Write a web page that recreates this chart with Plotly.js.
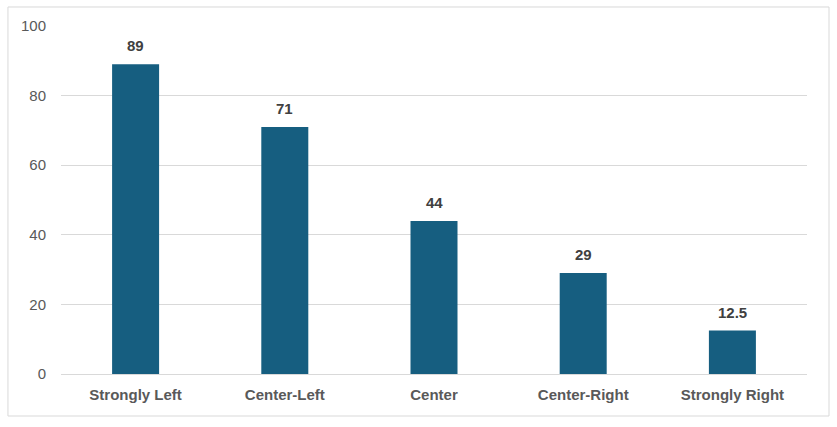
<!DOCTYPE html>
<html><head><meta charset="utf-8">
<script src="https://cdn.plot.ly/plotly-3.0.1.min.js"></script>
<style>html,body{margin:0;padding:0;background:#fff}#chart{width:837px;height:427px}</style>
</head><body><div id="chart"></div>
<script>
const categories = ["Strongly Left", "Center-Left", "Center", "Center-Right", "Strongly Right"];
const values = [89, 71, 44, 29, 12.5];
const yTicks = [0, 20, 40, 60, 80, 100];

const barColor = "#165E80";
const font = "Liberation Sans, Arial, sans-serif";

const trace = {
  type: "bar",
  x: categories,
  y: values,
  marker: {color: barColor},
  hoverinfo: "x+y"
};

const annotations = categories.map((c, i) => ({
  x: c, y: values[i], xref: "x", yref: "y",
  text: "<b>" + values[i] + "</b>",
  showarrow: false, yanchor: "bottom", yshift: 8,
  font: {family: font, size: 15, color: "#404040"}
}));

const layout = {
  width: 837, height: 427,
  margin: {l: 61, r: 30, t: 26, b: 53},
  paper_bgcolor: "#fff", plot_bgcolor: "#fff",
  bargap: 0.685,
  showlegend: false,
  xaxis: {
    type: "category",
    showgrid: false, zeroline: false, showline: false,
    ticks: "", ticklabelstandoff: 10,
    tickfont: {family: font, size: 15, color: "#595959", weight: "bold"}
  },
  yaxis: {
    range: [0, 100], tickvals: yTicks,
    showgrid: true, gridcolor: "#d9d9d9", gridwidth: 1,
    zeroline: true, zerolinecolor: "#d9d9d9", zerolinewidth: 1,
    showline: false, ticks: "", ticklabelstandoff: 14,
    tickfont: {family: font, size: 15, color: "#595959"}
  },
  annotations: annotations,
  shapes: [{
    type: "rect", xref: "paper", yref: "paper",
    x0: -0.0711, x1: 1.0295, y0: -0.1207, y1: 1.0546,
    line: {color: "#d9d9d9", width: 1}, fillcolor: "rgba(0,0,0,0)", layer: "below"
  }]
};

Plotly.newPlot("chart", [trace], layout, {displayModeBar: false, staticPlot: true});
</script></body></html>
